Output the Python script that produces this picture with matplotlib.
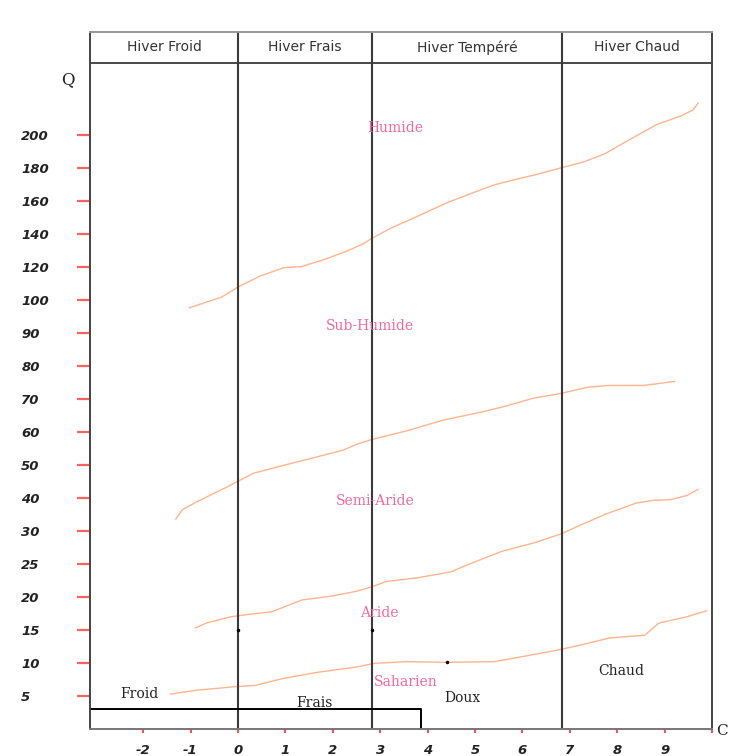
import numpy as np
import matplotlib
matplotlib.use("Agg")
import matplotlib.pyplot as plt

# graduations of the Q axis (evenly spaced, not linear)
q_ticks = [5, 10, 15, 20, 25, 30, 40, 50, 60, 70, 80, 90, 100, 120, 140, 160, 180, 200]
q_grid = [0] + q_ticks + [220, 240, 260, 280]
x_ticks = [-2, -1, 0, 1, 2, 3, 4, 5, 6, 7, 8, 9, 10]
x_labels = ["-2", "-1", "0", "1", "2", "3", "4", "5", "6", "7", "8", "9", ""]

# winter zones (m, °C)
zone_edges = [-3.12, 0, 2.83, 6.83, 10]
zone_names = ["Hiver Froid", "Hiver Frais", "Hiver Tempéré", "Hiver Chaud"]

# bioclimatic limits (m, Q)
hum_m = [-1.03, -0.34, 0.00, 0.46, 0.97, 1.34, 1.85, 2.28, 2.61, 2.83, 3.23, 3.81, 4.40,
         4.83, 5.41, 5.85, 6.29, 6.83, 7.31, 7.74, 8.25, 8.84, 9.35, 9.60, 9.71]
hum_q = [97.6, 101.8, 107.8, 114.4, 119.6, 120.2, 124.8, 129.4, 133.6, 137.4, 143.6, 151.0,
         158.8, 163.6, 169.8, 173.0, 176.0, 180.2, 183.8, 188.6, 197.0, 206.4, 211.6, 215.2, 219.4]

sub_m = [-1.31, -1.17, -0.91, -0.62, -0.26, 0.02, 0.33, 0.91, 1.49, 2.22, 2.51, 2.82, 3.60,
         4.33, 5.13, 5.64, 6.22, 6.82, 7.39, 7.83, 8.55, 9.21]
sub_q = [33.6, 36.5, 38.5, 40.6, 43.1, 45.2, 47.5, 49.7, 51.8, 54.5, 56.3, 57.7, 60.5,
         63.6, 66.0, 67.8, 70.2, 71.7, 73.6, 74.1, 74.1, 75.3]

semi_m = [-0.90, -0.65, -0.15, 0.21, 0.71, 1.35, 1.99, 2.49, 2.85, 3.13, 3.78, 4.49, 4.85,
          5.56, 6.27, 6.81, 7.20, 7.77, 8.41, 8.77, 9.13, 9.48, 9.70]
semi_q = [15.3, 16.1, 17.0, 17.35, 17.75, 19.55, 20.15, 20.85, 21.6, 22.35, 22.9, 23.8, 24.9,
          26.9, 28.25, 29.55, 31.6, 35.2, 38.5, 39.3, 39.5, 40.8, 42.6]

arid_m = [-1.42, -0.90, -0.08, 0.36, 0.95, 1.69, 2.51, 2.88, 3.55, 4.40, 5.40, 6.14, 6.81,
          7.25, 7.84, 8.58, 8.88, 9.47, 9.88]
arid_q = [5.3, 5.85, 6.4, 6.6, 7.65, 8.6, 9.4, 9.95, 10.2, 10.1, 10.2, 11.15, 12.05,
          12.75, 13.8, 14.2, 16.05, 17.0, 17.9]

etages = ["Humide", "Sub-Humide", "Semi-Aride", "Aride", "Saharien"]
etage_pos = [(3.32, 204), (2.79, 92), (2.90, 39.1), (2.98, 17.6), (3.55, 7.1)]
variantes = ["Froid", "Frais", "Doux", "Chaud"]
variante_pos = [(-2.08, 5.3), (1.61, 3.95), (4.74, 4.7), (8.09, 8.8)]

idx = np.arange(len(q_grid)) - 1.0


def forward(q):
    return np.interp(q, q_grid, idx)


def inverse(p):
    return np.interp(p, idx, q_grid)


fig = plt.figure(figsize=(7.32, 7.56), dpi=100)
ax = fig.add_axes([90 / 732, 27 / 756, 622 / 732, 697 / 756])
ax.set_yscale("function", functions=(forward, inverse))
ax.set_xlim(zone_edges[0], zone_edges[-1])
ax.set_ylim(0, 262.4)

curve_col = "#ffb48f"
for m, q in [(hum_m, hum_q), (sub_m, sub_q), (semi_m, semi_q), (arid_m, arid_q)]:
    ax.plot(m, q, color=curve_col, lw=1.0)

# zone separators and header row
for e in zone_edges[1:-1]:
    ax.axvline(e, color="#3a3a3a", lw=1.5)
ax.plot([0, 1], [0.9555, 0.9555], transform=ax.transAxes, color="#3a3a3a", lw=1.3)
for i, name in enumerate(zone_names):
    xc = (zone_edges[i] + zone_edges[i + 1]) / 2
    ax.text(xc, 0.978, name, transform=ax.get_xaxis_transform(), ha="center", va="center",
            fontsize=10, color="#333333", family="DejaVu Sans")

# bottom box Froid / Frais
ax.plot([zone_edges[0], 3.87, 3.87], [3, 3, 0], color="black", lw=1.4, clip_on=False)

# small marks
ax.plot([0, 2.83], [15, 15], ls="none", marker=".", ms=3, color="black")
ax.plot([4.4], [10.1], ls="none", marker=".", ms=3, color="black")

for name, (x, y) in zip(etages, etage_pos):
    ax.text(x, y, name, ha="center", va="center", fontsize=10, color="#f06aa0",
            family="DejaVu Serif")
for name, (x, y) in zip(variantes, variante_pos):
    ax.text(x, y, name, ha="center", va="center", fontsize=10, color="#222222",
            family="DejaVu Serif")

for s in ["left", "right", "top", "bottom"]:
    ax.spines[s].set_color("#444444")
    ax.spines[s].set_linewidth(1.4)
ax.spines["top"].set_color("#999999")
ax.spines["bottom"].set_color("#777777")

ax.set_yticks(q_ticks)
ax.set_yticklabels([str(v) for v in q_ticks])
ax.yaxis.set_minor_locator(matplotlib.ticker.NullLocator())
ax.tick_params(axis="y", direction="out", length=9.5, width=1.6, color="#ff6060",
               pad=40, labelsize=9.5)
for lab in ax.get_yticklabels():
    lab.set_ha("left")
    lab.set_fontweight("bold")
    lab.set_fontstyle("italic")
    lab.set_color("#222222")

ax.set_xticks(x_ticks)
ax.set_xticklabels(x_labels)
ax.tick_params(axis="x", direction="out", length=3, width=1.5, color="#ff5050",
               pad=8, labelsize=9.5)
for lab in ax.get_xticklabels():
    lab.set_fontweight("bold")
    lab.set_fontstyle("italic")
    lab.set_color("#222222")

fig.text(68 / 732, 1 - 80 / 756, "Q", ha="center", va="center", fontsize=12,
         family="DejaVu Serif", color="#222222")
fig.text(722 / 732, 1 - 731 / 756, "C", ha="center", va="center", fontsize=11,
         family="DejaVu Serif", color="#222222")

fig.savefig("out.png", dpi=100, facecolor="white")
